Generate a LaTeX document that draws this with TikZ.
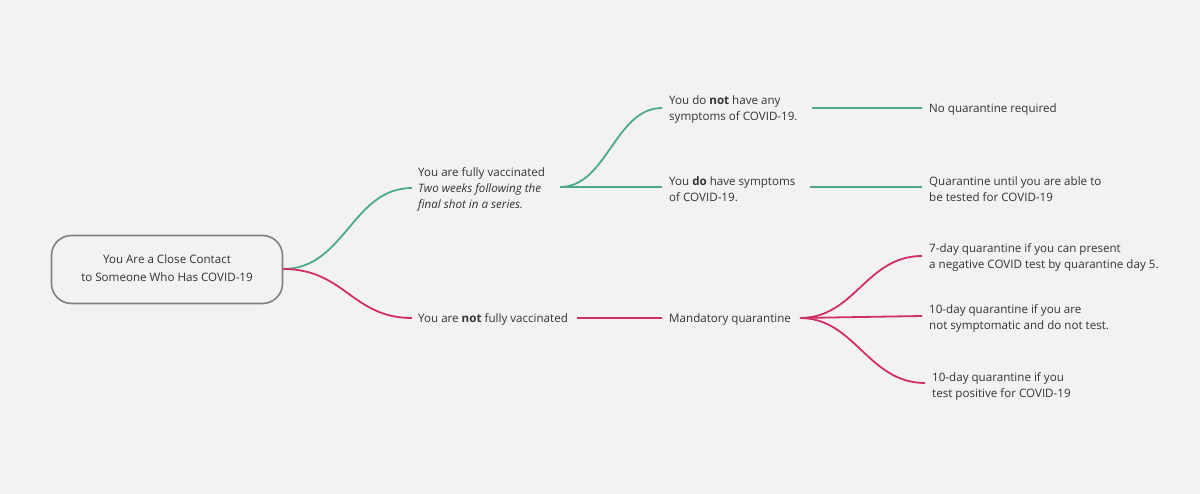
\documentclass[tikz,border=0pt]{standalone}
\usepackage{fontspec}
\setmainfont{Open Sans}
\definecolor{bg}{HTML}{F2F2F2}
\definecolor{grn}{HTML}{4CAA88}
\definecolor{rd}{HTML}{D02F63}
\definecolor{txt}{HTML}{333333}
\definecolor{boxc}{HTML}{808080}
\tikzset{
  lbl/.style={anchor=west, inner sep=0pt, align=left, text=txt, font=\fontsize{11.6}{16}\selectfont},
  rootbox/.style={draw=boxc, line width=1.6pt, rounded corners=20pt, fill=bg, minimum width=231pt, minimum height=68pt, align=center, text=txt, font=\fontsize{11.6}{17}\selectfont},
  gline/.style={draw=grn, line width=1.8pt},
  rline/.style={draw=rd, line width=1.8pt},
}
\begin{document}
\begin{tikzpicture}[x=1pt,y=-1pt]
\fill[bg] (0,0) rectangle (1200,494);
\useasboundingbox (0,0) rectangle (1200,494);

\node[rootbox] (root) at (167,269.5) {\raisebox{-3.5pt}{\begin{tabular}{@{}c@{}}You Are a Close Contact\\[1pt]to Someone Who Has COVID-19\end{tabular}}};

\node[lbl] (fully) at (418,189.5) {You are fully vaccinated\\\textit{Two weeks following the}\\\textit{final shot in a series.}};
\node[lbl] (notfully) at (418,319.5) {You are \textbf{not} fully vaccinated};
\node[lbl] (nosym) at (669,109.5) {You do \textbf{not} have any\\symptoms of COVID-19.};
\node[lbl] (dosym) at (669,189.5) {You \textbf{do} have symptoms\\of COVID-19.};
\node[lbl] (noq) at (929,109.5) {No quarantine required};
\node[lbl] (untilq) at (929,189.5) {Quarantine until you are able to\\be tested for COVID-19};
\node[lbl] (mand) at (669,319.5) {Mandatory quarantine};
\node[lbl] (q7) at (929,257.5) {7-day quarantine if you can present\\a negative COVID test by quarantine day 5.};
\node[lbl] (q10a) at (929,318.5) {10-day quarantine if you are\\not symptomatic and do not test.};
\node[lbl] (q10b) at (932,386.5) {10-day quarantine if you\\ test positive for COVID-19};

% connector end points
\coordinate (rootOut) at (283,269);
\coordinate (fullyIn) at (412,188);
\coordinate (notfullyIn) at (412,318);
\coordinate (fullyOut) at (560,187);
\coordinate (nosymIn) at (662,108);
\coordinate (dosymIn) at (662,187);
\coordinate (nosymOut) at (812,108);
\coordinate (noqIn) at (922,108);
\coordinate (dosymOut) at (810,187);
\coordinate (untilqIn) at (922,187);
\coordinate (notfullyOut) at (577,318);
\coordinate (mandIn) at (662,318);
\coordinate (mandOut) at (800,318);
\coordinate (q7In) at (922,256);
\coordinate (q10aIn) at (922,316);
\coordinate (q10bIn) at (925,383);

\draw[gline] (rootOut) .. controls (345,269) and (352,188) .. (fullyIn);
\draw[rline] (rootOut) .. controls (345,269) and (352,318) .. (notfullyIn);
\draw[gline] (fullyOut) .. controls (607,187) and (615,108) .. (nosymIn);
\draw[gline] (fullyOut) -- (dosymIn);
\draw[gline] (nosymOut) -- (noqIn);
\draw[gline] (dosymOut) -- (untilqIn);
\draw[rline] (notfullyOut) -- (mandIn);
\draw[rline] (mandOut) .. controls (855,318) and (866,256) .. (q7In);
\draw[rline] (mandOut) -- (q10aIn);
\draw[rline] (mandOut) .. controls (855,318) and (868,383) .. (q10bIn);
\end{tikzpicture}
\end{document}
